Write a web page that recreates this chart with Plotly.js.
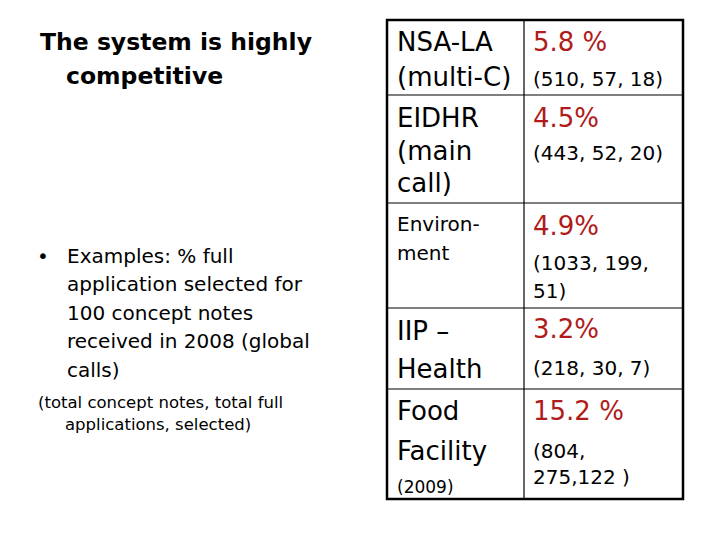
<!DOCTYPE html>
<html>
<head>
<meta charset="utf-8">
<script src="https://cdn.plot.ly/plotly-3.0.1.min.js"></script>
<style>
  html, body { margin: 0; padding: 0; background: #fff; }
  #chart { width: 720px; height: 540px; }
</style>
</head>
<body>
<div id="chart"></div>
<script>
// Slide: competitiveness of calls (table of selection rates)

const heading = ['The system is highly', 'competitive'];
const bulletLines = ['Examples: % full', 'application selected for', '100 concept notes',
    'received in 2008 (global', 'calls)'];
const noteLines = ['(total concept notes, total full', 'applications, selected)'];

// table content
const programmeLines = [
    ['NSA-LA', '(multi-C)'],
    ['EIDHR', '(main', 'call)'],
    ['Environ-', 'ment'],
    ['IIP –', 'Health'],
    ['Food', 'Facility', '(2009)']
];
const selectionRates = ['5.8 %', '4.5%', '4.9%', '3.2%', '15.2 %'];
const countLines = [
    ['(510, 57, 18)'],
    ['(443, 52, 20)'],
    ['(1033, 199,', '51)'],
    ['(218, 30, 7)'],
    ['(804,', '275,122 )']
];

// layout of the table (slide pixels)
const colEdges = [387, 524, 683];
const rowEdges = [20, 95, 203, 308, 389, 499];

const FONT = 'DejaVu Sans, Liberation Sans, Arial, sans-serif';
const RED = '#b01c1c';

// baselines per row, per line (slide pixels)
const nameBase = [[51, 86], [127, 160, 192], [231, 260], [340, 378], [420, 460, 493]];
const nameSize = [[26, 26], [26, 26, 26], [20, 20], [26, 26], [26, 26, 17]];
const rateBase = [51, 127, 235, 338, 420];
const countBase = [[86], [160], [270, 298], [375], [458, 484]];

const annotations = [];

function addText(text, x, baseline, size, opts = {}) {
    annotations.push({
        x: x, y: baseline - size * 0.36,
        xref: 'x', yref: 'y',
        text: opts.bold ? '<b>' + text + '</b>' : text,
        showarrow: false,
        xanchor: 'left', yanchor: 'middle',
        font: { family: FONT, size: size, color: opts.color || '#000' }
    });
}

// left column text
addText(heading[0], 38, 50, 23.5, { bold: true });
addText(heading[1], 64, 84, 23.5, { bold: true });
bulletLines.forEach((t, i) => addText(t, 65, 263 + i * 28.5, 20));
addText('•', 35, 263, 20);
addText(noteLines[0], 36, 408, 16.5);
addText(noteLines[1], 63, 430, 16.5);

// table text
programmeLines.forEach((lines, r) => {
    lines.forEach((t, i) => addText(t, colEdges[0] + 8, nameBase[r][i], nameSize[r][i]));
    addText(selectionRates[r], colEdges[1] + 7, rateBase[r], 26, { color: RED });
    countLines[r].forEach((t, i) => addText(t, colEdges[1] + 7, countBase[r][i], 20));
});

// table borders
const shapes = [];
const x0 = colEdges[0], x1 = colEdges[colEdges.length - 1];
const y0 = rowEdges[0], y1 = rowEdges[rowEdges.length - 1];
shapes.push({ type: 'rect', xref: 'x', yref: 'y', x0: x0, x1: x1, y0: y0, y1: y1,
    line: { color: '#000', width: 2.5 } });
rowEdges.slice(1, -1).forEach(y => {
    shapes.push({ type: 'line', xref: 'x', yref: 'y', x0: x0, x1: x1, y0: y, y1: y,
        line: { color: '#000', width: 1.2 } });
});
colEdges.slice(1, -1).forEach(x => {
    shapes.push({ type: 'line', xref: 'x', yref: 'y', x0: x, x1: x, y0: y0, y1: y1,
        line: { color: '#000', width: 1.2 } });
});

const layout = {
    width: 720,
    height: 540,
    margin: { l: 0, r: 0, t: 0, b: 0 },
    paper_bgcolor: '#fff',
    plot_bgcolor: '#fff',
    showlegend: false,
    xaxis: { range: [0, 720], visible: false, fixedrange: true },
    yaxis: { range: [540, 0], visible: false, fixedrange: true },
    annotations: annotations,
    shapes: shapes
};

Plotly.newPlot('chart', [], layout, { staticPlot: true, displayModeBar: false });
</script>
</body>
</html>
